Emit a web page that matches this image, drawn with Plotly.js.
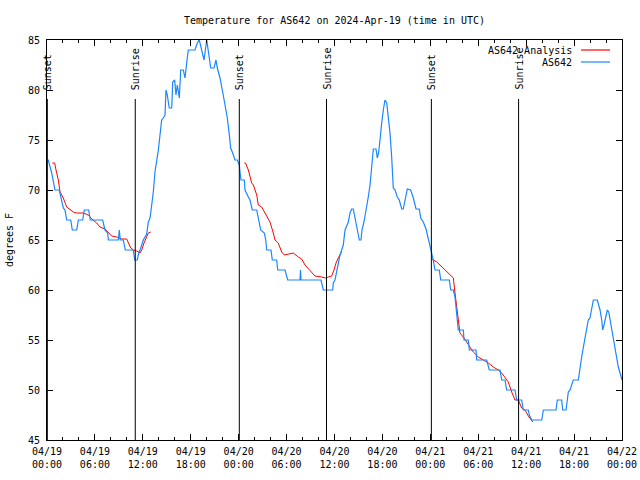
<!DOCTYPE html>
<html>
<head>
<meta charset="utf-8">
<script src="https://cdn.plot.ly/plotly-3.0.1.min.js"></script>
<style>html,body{margin:0;padding:0;background:#fff;}#chart{width:640px;height:480px;}</style>
</head>
<body>
<div id="chart"></div>
<script>
// Hours since 2024-04-19 00:00 UTC
const obsHours = [0,0.16,0.59,1.00,1.54,1.72,2.04,2.25,2.47,2.97,3.17,3.72,3.92,4.47,4.67,5.22,5.42,6.97,7.26,7.60,7.68,8.93,9.05,9.18,9.55,9.80,10.81,10.98,11.31,11.48,11.65,12.06,12.48,12.69,12.90,13.11,13.31,13.52,13.74,13.94,14.15,14.36,14.56,14.78,14.90,15.06,15.31,15.62,15.74,15.99,16.15,16.32,16.57,16.74,17.07,17.28,17.49,17.69,18.53,18.82,19.07,19.37,19.66,20.00,20.20,20.50,20.91,21.04,21.16,21.33,21.66,22.00,22.29,22.58,22.83,23.00,23.25,23.54,23.83,24.08,24.17,24.29,24.71,24.79,25.21,25.42,25.71,26.26,26.46,26.76,27.21,27.39,27.51,28.05,28.21,28.76,28.89,29.80,30.14,31.68,31.74,31.81,34.31,34.60,35.78,35.85,36.06,36.28,36.48,36.69,36.90,37.10,37.32,37.73,37.94,38.15,38.35,38.57,38.78,39.11,39.32,39.44,39.69,39.94,40.23,40.45,40.66,40.86,41.20,41.36,41.54,41.70,41.91,42.11,42.32,42.54,42.74,42.95,43.16,43.36,43.58,43.86,44.11,44.42,44.61,44.83,45.12,45.54,45.87,46.21,46.62,46.80,47.12,47.46,47.75,47.96,48.17,48.37,48.58,49.12,49.30,50.38,50.55,50.88,51.09,51.30,51.50,52.13,52.22,52.75,52.88,53.72,53.81,55.06,55.38,56.72,56.94,57.35,57.56,58.60,58.81,59.44,59.64,60.27,60.39,60.70,61.95,62.15,63.74,63.90,64.45,64.57,64.99,65.15,65.28,65.49,65.90,66.53,66.65,66.95,67.37,67.58,67.78,67.99,68.21,68.41,68.91,69.25,69.46,69.58,69.75,70.00,70.16,70.34,70.50,70.75,70.92,71.17,71.34,71.54,71.75,71.88,72];
const obsTemps = [73,73,71.7,70,70,69.2,68.2,68,67,67,66,66,67,67,68,68,67,67,66,65.7,65,65,66,65,65,64,64,63,63,63.7,64,65,65.6,66.8,67.2,68.5,69.8,71.8,72.8,74,75.5,77,77.2,77.5,80,79.5,78.2,78.2,80.8,81,79.5,80.5,79.2,82,82,81.2,82.7,84,84,84.7,85,84,83,85,83.8,82.2,82.2,82.8,83,82.2,81.2,79.8,78.5,77.2,75.5,74.2,73.7,73,73,72.5,71.8,71,71,70,69.3,69,68,68,67.2,66,65.7,65,64,64,63,63,62,62,61,61,62,61,61,60,60,60.7,61,62,62.7,63.5,64,64.5,66,66.8,67.7,68.1,68.1,67.2,66.3,65,65,66,66.8,67.8,69.3,70.5,72.7,74.1,74.1,73.2,73.8,74.8,76.7,78,79,78.7,77.3,75.7,73.3,70.2,70,69.3,69,68.1,68.1,69,70.1,70,69.2,68.1,68.1,67.2,66.8,66.1,65.2,64.3,63.7,63,62,62,61,61,60,60,59.3,57.3,56,56,55,55,54,54,53,53,52,52,51,51,50,50,49,49,48,48,47.5,47,47,48,48,49,49,48,48,49,49.8,50,51,51,51.7,53.3,55.2,56.3,57,57.2,58,59,59,58,57,56,56.5,57.5,58,57.8,57,56,55,54,53.2,52.3,51.7,51.3,51];

const anaHours1 = [0.66,0.96,1.13,1.42,1.63,2.04,2.47,2.88,3.29,3.72,4.55,5.17,5.60,6.22,6.64,7.26,7.68,8.10,8.73,9.35,9.98,10.18,10.48,10.81,11.23,11.65,11.86,12.15,12.48,12.69,12.99];
const anaTemps1 = [72.7,72.7,72,71,69.8,69.2,68.3,68,67.8,67.7,67.7,67.5,67.1,66.7,66.3,66.1,65.7,65.4,65.3,65.1,65.1,64.7,64.2,64,63.9,63.7,64,64.7,65.3,65.7,65.8];
const anaHours2 = [24.71,24.86,25.21,25.63,25.84,26.26,26.46,26.88,27.30,27.71,27.92,28.34,28.55,28.96,29.39,29.72,30.22,30.84,31.47,31.89,32.31,32.64,33.15,33.56,34.40,34.90,35.22,35.64,35.94,36.19,36.48,36.78,36.88];
const anaTemps2 = [72.7,72.7,72,70.7,70.5,69.5,68.5,68.3,67.7,67,66.8,65.7,65,64.7,63.8,63.5,63.6,63.7,63.3,63.1,62.5,62.2,61.8,61.4,61.3,61.2,61.3,61.4,62,62.7,63.2,63.6,63.8];
const anaHours3 = [48.17,48.80,49.21,49.71,50.05,50.46,50.88,51.09,51.30,51.50,51.71,52.13,52.56,52.97,53.38,54.01,54.63,55.26,55.89,56.51,56.94,57.35,57.76,58.19,58.60,59.01,59.44,59.85,60.27,60.82];
const anaTemps3 = [63.1,62.8,62.5,62.1,61.9,61.5,61.2,59.7,58.3,56.7,55.7,55.3,54.8,54.3,53.8,53.3,53,52.7,52.3,52,51.7,51.2,50.8,49.8,49,49,48.2,48,47.4,46.8];

const sunHours = [0.04,11.05,24.08,35.0,48.13,59.05];
const sunLabels = ["Sunset","Sunrise","Sunset","Sunrise","Sunset","Sunrise"];
const sunLineTop = 79.1;
const sunLabelY = 79.8;

const seriesNames = ["AS642 Analysis","AS642"];
const seriesColors = ["#ff0000","#1a86ff"];

function toDate(h){
  const d = new Date(Date.UTC(2024,3,19) + Math.round(h*3600000));
  const p = n => String(n).padStart(2,'0');
  return d.getUTCFullYear()+'-'+p(d.getUTCMonth()+1)+'-'+p(d.getUTCDate())+' '+p(d.getUTCHours())+':'+p(d.getUTCMinutes())+':'+p(d.getUTCSeconds());
}

const FONT = {family:'DejaVu Sans Mono, monospace', size:10, color:'#000'};

const anaX = anaHours1.map(toDate).concat([null], anaHours2.map(toDate), [null], anaHours3.map(toDate));
const anaY = anaTemps1.concat([null], anaTemps2, [null], anaTemps3);

const traces = [
  {x: anaX, y: anaY, mode:'lines', name: seriesNames[0], line:{color:seriesColors[0], width:1}, connectgaps:false, hoverinfo:'skip'},
  {x: obsHours.map(toDate), y: obsTemps, mode:'lines', name: seriesNames[1], line:{color:seriesColors[1], width:1.2}, hoverinfo:'skip'}
];

const shapes = sunHours.map(h => ({type:'line', xref:'x', yref:'y', x0:toDate(h), x1:toDate(h), y0:45, y1:sunLineTop, line:{color:'#000', width:1}, layer:'above'}));
const annotations = sunHours.map((h,i) => ({x:toDate(h), y:sunLabelY, xref:'x', yref:'y', text:sunLabels[i], textangle:-90, showarrow:false, xanchor:'center', yanchor:'bottom', font:FONT}));

// Custom legend (text right-aligned, sample line to the right)
const legRows = [0.975, 0.945];
seriesNames.forEach((n,i) => {
  annotations.push({xref:'paper', yref:'paper', x:0.9165, y:legRows[i], text:n, showarrow:false, xanchor:'right', yanchor:'middle', font:FONT});
  shapes.push({type:'line', xref:'paper', yref:'paper', x0:0.9287, x1:0.9791, y0:legRows[i], y1:legRows[i], line:{color:seriesColors[i], width:1.2}});
});

const layout = {
  width:640, height:480,
  margin:{l:47, r:18, t:40, b:40},
  paper_bgcolor:'#fff', plot_bgcolor:'#fff',
  showlegend:false,
  font: FONT,
  title:{text:'Temperature for AS642 on 2024-Apr-19 (time in UTC)', font:FONT, x:0.5, xref:'paper', xanchor:'center', y:1-20/480, yref:'container', yanchor:'middle'},
  xaxis:{type:'date', range:[toDate(0), toDate(72)], tick0:toDate(0), dtick:6*3600000, tickformat:'%m/%d<br>%H:%M',
         ticks:'inside', ticklen:6, tickcolor:'#000', tickwidth:1, showline:true, linecolor:'#000', linewidth:1, mirror:'allticks',
         showgrid:false, zeroline:false, tickfont:FONT, automargin:false, ticklabelstandoff:2,
         minor:{dtick:2*3600000, tick0:toDate(0), ticks:'inside', ticklen:3, tickcolor:'#000', showgrid:false}},
  yaxis:{range:[45,85], dtick:5, tick0:45, ticks:'inside', ticklen:6, tickcolor:'#000', tickwidth:1, showline:true, linecolor:'#000', linewidth:1, mirror:'allticks',
         showgrid:false, zeroline:false, tickfont:FONT, automargin:false, ticklabelstandoff:4,
         title:{text:'degrees F', font:FONT, standoff:12}},
  shapes: shapes,
  annotations: annotations
};

Plotly.newPlot('chart', traces, layout, {staticPlot:true, displayModeBar:false});
</script>
</body>
</html>
